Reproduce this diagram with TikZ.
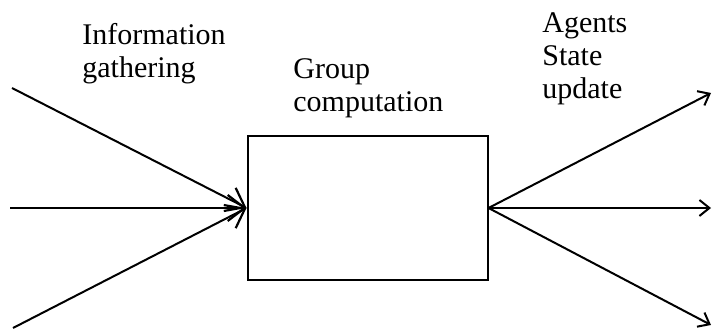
\documentclass[tikz,border=0pt]{standalone}
\usepackage{fontspec}
\setmainfont{Liberation Serif}
\usetikzlibrary{arrows.meta}

\tikzset{
  flow/.style={line width=1pt},
  inarrow/.style={flow, -{Straight Barb[length=8.5pt, width=13pt, line width=1.1pt]}},
  outarrow/.style={flow, -{Straight Barb[length=5pt, width=8pt, line width=1pt]}},
  caption/.style={anchor=north west, inner sep=0pt, align=left,
    font=\fontsize{15}{16.5}\selectfont},
}

\begin{document}
\begin{tikzpicture}[x=0.5pt, y=-0.5pt]
 \useasboundingbox (0,0) rectangle (712,330);

 %group computation box
 \node[draw, line width=1pt, minimum width=120pt, minimum height=72pt, inner sep=0pt]
   (comp) at (367.5,208) {};

 %free ends
 \coordinate (in1) at (12,88);
 \coordinate (in2) at (10,208);
 \coordinate (in3) at (13,328);
 \coordinate (out1) at (711,93);
 \coordinate (out2) at (711,208);
 \coordinate (out3) at (711,325);

 %information gathering
 \foreach \i in {1,2,3}
   \draw[inarrow] (in\i) -- (comp.west);

 %state update
 \foreach \o in {1,2,3}
   \draw[outarrow] (comp.east) -- (out\o);

 %labels
 \node[caption] (gather) at (82,23) {Information\\gathering};
 \node[caption] (group) at (293,58) {Group\\computation};
 \node[caption] (update) at (542,12) {Agents\\State\\update};
\end{tikzpicture}
\end{document}
